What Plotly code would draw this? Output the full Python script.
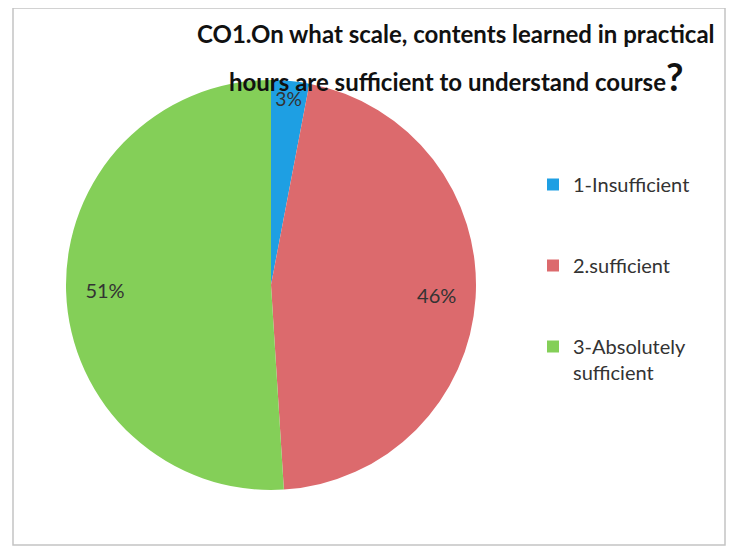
import plotly.graph_objects as go

categories = ["1-Insufficient", "2.sufficient", "3-Absolutely<br>sufficient"]
values = [3, 46, 51]
colors = ["#1e9fe3", "#dc6a6d", "#84cf58"]

title_line1 = "CO1.On what scale, contents learned in practical"
title_line2 = "hours are sufficient to understand course"

W, H = 726, 539  # page body has an 8px margin in the 734x547 window

legend_labels = [c + "<br> <br> " for c in categories[:2]] + [categories[2]]
pie_domain = dict(x=[58 / W, 468 / W], y=[57 / H, 467 / H])

fig = go.Figure()
fig.add_trace(go.Pie(
    labels=legend_labels, values=values, sort=False, direction="clockwise", rotation=0,
    marker=dict(colors=colors, line=dict(width=0)),
    textinfo="none", hoverinfo="label+percent",
    domain=pie_domain,
))
fig.add_trace(go.Pie(
    labels=legend_labels, values=values, sort=False, direction="clockwise", rotation=0,
    hole=0.62, showlegend=False,
    marker=dict(colors=["rgba(0,0,0,0)"] * 3, line=dict(width=0)),
    textinfo="percent", textposition="inside", insidetextorientation="horizontal",
    textfont=dict(family="Lato, Open Sans, sans-serif", size=20, color="#333333"),
    domain=pie_domain,
))

fig.add_annotation(text="<b>" + title_line1 + "</b>", x=448 / W, y=1 - 26 / H,
                   xref="paper", yref="paper", xanchor="center", yanchor="middle",
                   showarrow=False, font=dict(family="Lato, sans-serif", size=24, color="#111111"))
fig.add_annotation(text="<b>" + title_line2 + "</b><span style='font-size:38px'><b>?</b></span>",
                   x=448 / W, y=1 - 68 / H, xref="paper", yref="paper",
                   xanchor="center", yanchor="middle",
                   showarrow=False, font=dict(family="Lato, sans-serif", size=24, color="#111111"))

fig.add_shape(type="rect", xref="paper", yref="paper", x0=5 / W, x1=717 / W, y0=2 / H, y1=1.0,
              line=dict(color="#c4c4c4", width=1.5))

fig.update_layout(
    width=W, height=H,
    margin=dict(l=0, r=0, t=0, b=0),
    paper_bgcolor="white", plot_bgcolor="white",
    font=dict(family="Lato, Open Sans, sans-serif", color="#333333"),
    legend=dict(x=525 / W, y=1 - 157 / H, yanchor="top", xanchor="left",
                font=dict(size=20, color="#333333"), valign="top",
                bgcolor="rgba(0,0,0,0)"),
)

fig.write_html("out.html")
